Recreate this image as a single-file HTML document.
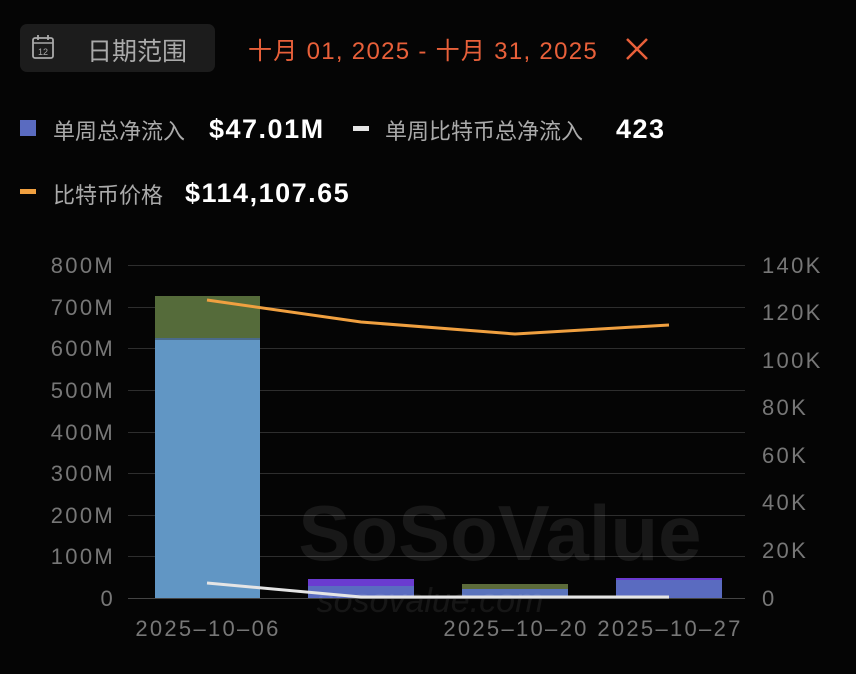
<!DOCTYPE html>
<html><head><meta charset="utf-8"><style>
body{margin:0;width:856px;height:674px;background:#050505;font-family:"Liberation Sans","Noto Sans CJK SC",sans-serif;overflow:hidden;position:relative}
.abs{position:absolute;white-space:nowrap}
</style></head><body>
<div class="abs" style="left:20px;top:24px;width:195px;height:48px;background:#1c1c1c;border-radius:7px"></div>
<svg class="abs" style="left:31px;top:34px" width="26" height="28" viewBox="0 0 26 28"><rect x="2" y="4" width="20" height="20" rx="2" fill="none" stroke="#aaa" stroke-width="1.8"/><line x1="2" y1="9" x2="22" y2="9" stroke="#aaa" stroke-width="1.5"/><line x1="7" y1="1" x2="7" y2="6" stroke="#aaa" stroke-width="1.8"/><line x1="17" y1="1" x2="17" y2="6" stroke="#aaa" stroke-width="1.8"/><text x="12" y="21" font-size="9" fill="#aaa" text-anchor="middle" font-family="Liberation Sans">12</text></svg>
<div class="abs" style="left:87px;top:32px;font-size:25px;color:#aaa">日期范围</div>
<div class="abs" style="left:248px;top:31px;font-size:24px;color:#e8603a;letter-spacing:1.3px">十月 01, 2025 - 十月 31, 2025</div>
<svg class="abs" style="left:624px;top:36px" width="26" height="26"><path d="M3 3L23 23M23 3L3 23" stroke="#e8603a" stroke-width="2.5"/></svg>
<div class="abs" style="left:20px;top:120px;width:16px;height:16px;background:#5a6bc0"></div>
<div class="abs" style="left:53px;top:114px;font-size:22px;color:#aaa">单周总净流入</div>
<div class="abs" style="left:209px;top:114px;font-size:27px;color:#fff;font-weight:bold;letter-spacing:1.5px">$47.01M</div>
<div class="abs" style="left:353px;top:126px;width:16px;height:5px;background:#e5e5e5"></div>
<div class="abs" style="left:385px;top:114px;font-size:22px;color:#aaa">单周比特币总净流入</div>
<div class="abs" style="left:616px;top:114px;font-size:27px;color:#fff;font-weight:bold;letter-spacing:1.5px">423</div>
<div class="abs" style="left:20px;top:189px;width:16px;height:5px;background:#f0a040"></div>
<div class="abs" style="left:53px;top:178px;font-size:22px;color:#aaa">比特币价格</div>
<div class="abs" style="left:185px;top:178px;font-size:27px;color:#fff;font-weight:bold;letter-spacing:1.5px">$114,107.65</div>
<svg class="abs" style="left:0;top:0" width="856" height="674">
<g stroke="#2e2e2e" stroke-width="1">
<line x1="128" y1="265.5" x2="745" y2="265.5"/><line x1="128" y1="307.5" x2="745" y2="307.5"/><line x1="128" y1="348.5" x2="745" y2="348.5"/><line x1="128" y1="390.5" x2="745" y2="390.5"/><line x1="128" y1="432.5" x2="745" y2="432.5"/><line x1="128" y1="473.5" x2="745" y2="473.5"/><line x1="128" y1="515.5" x2="745" y2="515.5"/><line x1="128" y1="556.5" x2="745" y2="556.5"/>
</g>
<g font-size="22" fill="#777" text-anchor="end" font-family="Liberation Sans" letter-spacing="2.3">
<text x="115" y="273">800M</text><text x="115" y="315">700M</text><text x="115" y="356">600M</text><text x="115" y="398">500M</text><text x="115" y="440">400M</text><text x="115" y="481">300M</text><text x="115" y="523">200M</text><text x="115" y="564">100M</text><text x="115" y="606">0</text>
</g>
<g font-size="22" fill="#777" font-family="Liberation Sans" letter-spacing="2.3">
<text x="762" y="273">140K</text><text x="762" y="320">120K</text><text x="762" y="368">100K</text><text x="762" y="415">80K</text><text x="762" y="463">60K</text><text x="762" y="510">40K</text><text x="762" y="558">20K</text><text x="762" y="606">0</text>
</g>
<g font-size="22" fill="#777" text-anchor="middle" font-family="Liberation Sans" letter-spacing="2.3">
<text x="208" y="636">2025–10–06</text><text x="516" y="636">2025–10–20</text><text x="670" y="636">2025–10–27</text>
</g>
<rect x="155" y="296" width="105" height="42" fill="#556b3a"/>
<rect x="155" y="338" width="105" height="2" fill="#4a6a8a"/>
<rect x="155" y="340" width="105" height="258" fill="#6196c4"/>
<rect x="308" y="579" width="106" height="7" fill="#6a3bd0"/>
<rect x="308" y="586" width="106" height="12" fill="#5a6bc0"/>
<rect x="462" y="584" width="106" height="5" fill="#5c6b3a"/>
<rect x="462" y="589" width="106" height="9" fill="#5a73bc"/>
<rect x="616" y="578" width="106" height="2" fill="#6a3bd0"/>
<rect x="616" y="580" width="106" height="18" fill="#5a6bc0"/>
<text x="500" y="560" font-size="78" font-weight="bold" fill="#fff" fill-opacity="0.08" text-anchor="middle" font-family="Liberation Sans">SoSoValue</text>
<text x="430" y="612" font-size="34" font-style="italic" fill="#fff" fill-opacity="0.07" text-anchor="middle" font-family="Liberation Sans">sosovalue.com</text>
<line x1="128" y1="598.5" x2="745" y2="598.5" stroke="#444" stroke-width="1"/>
<polyline points="207,300 361,322 515,334 669,325" fill="none" stroke="#f0a040" stroke-width="3"/>
<polyline points="207,583 361,597 515,597 669,597" fill="none" stroke="#e5e5e5" stroke-width="3"/>
</svg>
</body></html>
